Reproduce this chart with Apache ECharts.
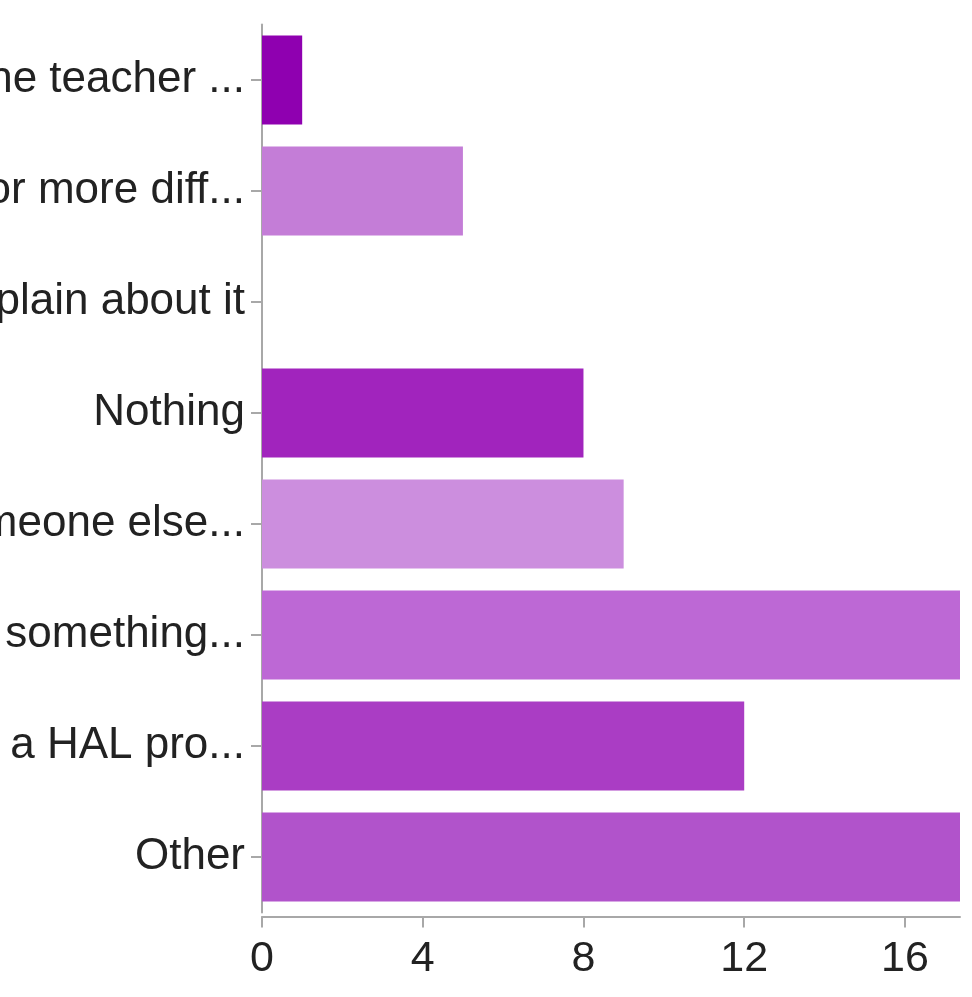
<!DOCTYPE html>
<html>
<head>
<meta charset="utf-8">
<script src="https://cdn.jsdelivr.net/npm/echarts@6/dist/echarts.min.js"></script>
<style>
html,body{margin:0;padding:0;background:#fff;}
#chart{width:972px;height:997px;}
</style>
</head>
<body>
<div id="chart"></div>
<script>
const categories = [
  "Tell the teacher ...",
  "Ask for more diff...",
  "Complain about it",
  "Nothing",
  "Ask someone else...",
  "Do something...",
  "Start a HAL pro...",
  "Other"
];
const values = [1, 5, 0, 8, 9, 19, 12, 18];
const xTicks = [0, 4, 8, 12, 16];
const barColors = ["#8f00b0", "#c47dd7", "#b86ad2", "#a124bd", "#cc8ede", "#bd68d5", "#aa3dc4", "#b153cb"];

const chart = echarts.init(document.getElementById('chart'), null, {renderer: 'canvas'});
const font = "'Liberation Sans', Arial, Helvetica, sans-serif";
const axisColor = '#a8a8a8';

chart.setOption({
  animation: false,
  backgroundColor: '#ffffff',
  grid: {
    left: 262,
    right: 12,
    top: 24.5,
    bottom: 84.5,
    containLabel: false,
    outerBoundsMode: 'none'
  },
  xAxis: {
    type: 'value',
    min: 0,
    max: 17.37,
    interval: 4,
    offset: 4,
    splitLine: {show: false},
    axisLine: {show: true, lineStyle: {color: axisColor, width: 2}},
    axisTick: {show: true, length: 11, customValues: xTicks, lineStyle: {color: axisColor, width: 2}},
    axisLabel: {
      customValues: xTicks,
      color: '#222',
      fontFamily: font,
      fontSize: 43,
      margin: 21
    }
  },
  yAxis: {
    type: 'category',
    data: categories,
    inverse: true,
    axisLine: {show: true, lineStyle: {color: axisColor, width: 2}},
    axisTick: {show: true, length: 11, alignWithLabel: true, lineStyle: {color: axisColor, width: 2}},
    axisLabel: {
      color: '#222',
      fontFamily: font,
      fontSize: 44,
      margin: 17,
      interval: 0
    },
    splitLine: {show: false}
  },
  series: [{
    type: 'bar',
    barCategoryGap: '20%',
    clip: true,
    data: values.map((v, i) => ({value: v, itemStyle: {color: barColors[i]}}))
  }]
});
</script>
</body>
</html>
